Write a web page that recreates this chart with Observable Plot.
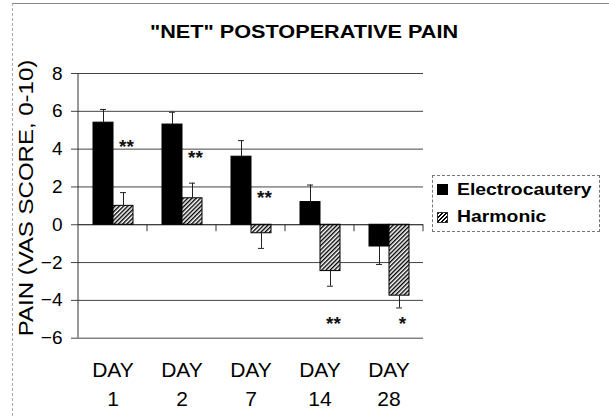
<!DOCTYPE html>
<html>
<head>
<meta charset="utf-8">
<script src="https://cdn.jsdelivr.net/npm/d3@7"></script>
<script src="https://cdn.jsdelivr.net/npm/@observablehq/plot@0.6"></script>
<style>
  html, body { margin: 0; padding: 0; background: #fff; }
  #wrap { position: relative; width: 609px; height: 416px; overflow: hidden; font-family: "Liberation Sans", Arial, sans-serif; color: #000; }
  #wrap svg { position: absolute; left: 0; top: 0; }
  .frame { position: absolute; left: 12px; top: 3px; right: 0; bottom: 0; border-top: 1px solid #888; border-left: 1px dashed #aaa; }
  .title { position: absolute; left: 303.5px; top: 22px; font-size: 19px; line-height: 1; font-weight: bold; white-space: nowrap; transform: translateX(-50%) scaleX(1.14); }
  .ylabel { position: absolute; left: 25.5px; top: 198px; font-size: 20px; line-height: 1; white-space: nowrap; transform: translate(-50%, -50%) rotate(-90deg) scaleX(1.2); }
  .legend { position: absolute; left: 432px; top: 175px; width: 166px; height: 55px; border: 1px dashed #777; }
  .sw { position: absolute; width: 11px; height: 11px; box-sizing: border-box; }
  .lt { position: absolute; font-size: 17px; line-height: 1; font-weight: bold; white-space: nowrap; transform-origin: left center; transform: scaleX(1.14); }
</style>
</head>
<body>
<div id="wrap"></div>
<script>
// ---- data ----
const days = ["DAY 1", "DAY 2", "DAY 7", "DAY 14", "DAY 28"];
const series = ["Electrocautery", "Harmonic"];
const elec = [5.4, 5.3, 3.6, 1.2, -1.15];
const harm = [1.0, 1.4, -0.45, -2.45, -3.75];
const elecErr = [0.7, 0.65, 0.85, 0.9, 0.95];
const harmErr = [0.7, 0.8, 0.8, 0.8, 0.65];
const stars = ["**", "**", "**", "**", "*"];
const starY = [4.4, 3.8, 1.7, -5.0, -5.0];
const yTicks = [8, 6, 4, 2, 0, -2, -4, -6];
const titleText = "\"NET\" POSTOPERATIVE PAIN";
const yLabel = "PAIN (VAS SCORE, 0-10)";

const rows = days.flatMap((d, i) => [
  {day: d, group: series[0], value: elec[i], err: elecErr[i]},
  {day: d, group: series[1], value: harm[i], err: harmErr[i]}
]);
rows.forEach(r => { r.end = r.value + Math.sign(r.value) * r.err; });
const starRows = days.map((d, i) => ({day: d, group: series[1], y: starY[i], label: stars[i]}));

const chart = Plot.plot({
  width: 609,
  height: 416,
  marginLeft: 76,
  marginRight: 185,
  marginTop: 73,
  marginBottom: 78.3,
  style: {fontFamily: "'Liberation Sans', Arial, sans-serif", color: "#000", background: "transparent", overflow: "visible"},
  fx: {domain: days, padding: 0, label: null},
  x: {domain: series, paddingInner: 0, paddingOuter: 0.7, axis: null},
  y: {domain: [-6, 8], label: null},
  marks: [
    Plot.gridY(yTicks.filter(t => t !== 0), {stroke: "#444", strokeOpacity: 1, strokeWidth: 1}),
    Plot.barY(rows.filter(r => r.group === series[0]), {fx: "day", x: "group", y: "value", fill: "#000", stroke: "#000"}),
    Plot.barY(rows.filter(r => r.group === series[1]), {fx: "day", x: "group", y: "value", fill: "url(#hatch)", stroke: "#000", strokeWidth: 1}),
    Plot.ruleY([0], {stroke: "#000", strokeWidth: 1.2}),
    Plot.ruleX(rows, {fx: "day", x: "group", y1: "value", y2: "end", stroke: "#222", strokeWidth: 1}),
    Plot.tickY(rows, {fx: "day", x: "group", y: "end", stroke: "#222", strokeWidth: 1, insetLeft: 7, insetRight: 7}),
    Plot.text(starRows, {fx: "day", x: "group", y: "y", text: "label", fontSize: 19, fontWeight: "bold", dx: 3, dy: 5, fill: "#111"}),
    Plot.axisY({ticks: yTicks, tickSize: 7, tickPadding: 9, fontSize: 19, label: null, stroke: "#444"}),
    Plot.axisFx({anchor: "bottom", tickSize: 0, tickPadding: 18.7, fontSize: 21, lineHeight: 1.38, label: null, tickFormat: d => d.replace(" ", "\n")})
  ]
});

// hatch pattern for the Harmonic bars
const svg = d3.select(chart);
const defs = svg.insert("defs", ":first-child");
const pat = defs.append("pattern").attr("id", "hatch").attr("patternUnits", "userSpaceOnUse")
  .attr("width", 3).attr("height", 3).attr("patternTransform", "rotate(45)");
pat.append("rect").attr("width", 3).attr("height", 3).attr("fill", "#fff");
pat.append("line").attr("x1", 0.7).attr("y1", 0).attr("x2", 0.7).attr("y2", 3).attr("stroke", "#000").attr("stroke-width", 1.4);

// y axis line and category separator ticks on the zero line, from Plot's own scales
const fx = chart.scale("fx");
const ys = chart.scale("y");
const g = svg.append("g").attr("stroke", "#333").attr("stroke-width", 1);
const x0 = fx.apply(days[0]);
g.append("line").attr("x1", x0).attr("x2", x0).attr("y1", ys.apply(8)).attr("y2", ys.apply(-6));
days.forEach(d => {
  const xe = fx.apply(d) + fx.bandwidth;
  g.append("line").attr("x1", xe).attr("x2", xe).attr("y1", ys.apply(0)).attr("y2", ys.apply(0) + 7);
});

const wrap = document.getElementById("wrap");
const frame = document.createElement("div");
frame.className = "frame";
wrap.appendChild(frame);
wrap.appendChild(chart);

const t = document.createElement("div");
t.className = "title";
t.textContent = titleText;
wrap.appendChild(t);

const yl = document.createElement("div");
yl.className = "ylabel";
yl.textContent = yLabel;
wrap.appendChild(yl);

const lg = document.createElement("div");
lg.className = "legend";
wrap.appendChild(lg);
const swTops = [184, 211.5];
const textTops = [181, 208];
series.forEach((s, i) => {
  const sw = document.createElement("div");
  sw.className = "sw";
  sw.style.left = "437px";
  sw.style.top = swTops[i] + "px";
  if (i === 0) sw.style.background = "#000";
  else { sw.style.background = "repeating-linear-gradient(135deg, #000 0 1.3px, #fff 1.3px 2.8px)"; sw.style.border = "1px solid #333"; }
  wrap.appendChild(sw);
  const lt = document.createElement("div");
  lt.className = "lt";
  lt.style.left = "456.5px";
  lt.style.top = textTops[i] + "px";
  lt.textContent = s;
  wrap.appendChild(lt);
});
</script>
</body>
</html>
